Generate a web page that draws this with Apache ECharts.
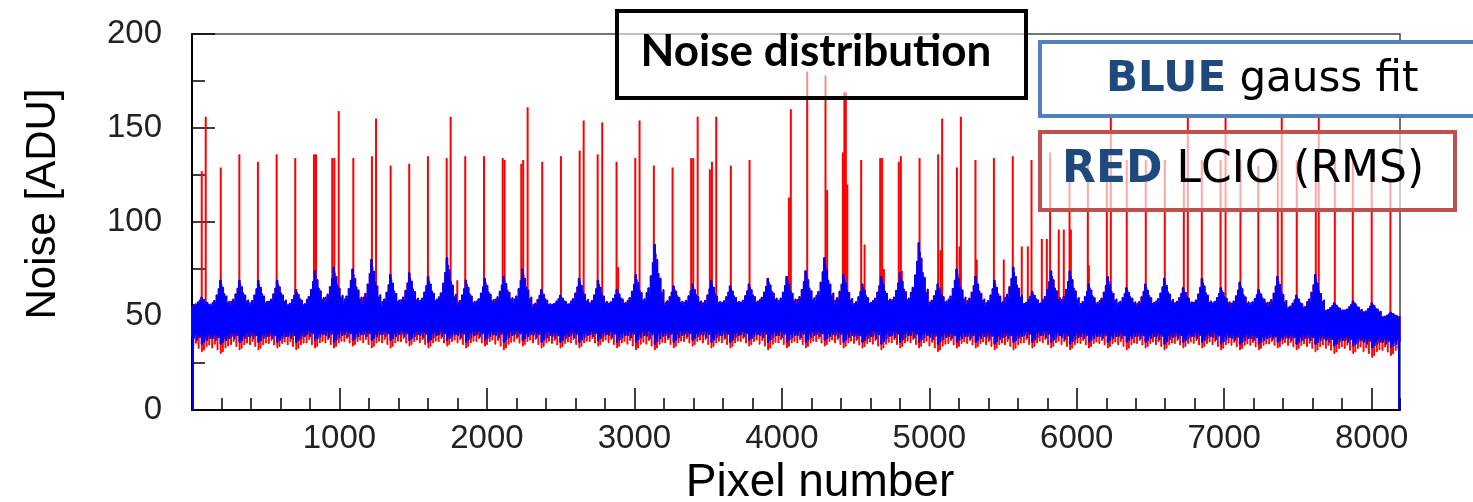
<!DOCTYPE html>
<html lang="en">
<head>
<meta charset="UTF-8">
<title>Noise distribution</title>
<script src="https://cdn.jsdelivr.net/npm/echarts@6/dist/echarts.min.js"></script>
</head>
<style>
    * { margin: 0; padding: 0; }
    html, body { width: 100%; height: 100%; overflow: hidden; background: #fff; }
    .container { width: 1473px; height: 502px; }
</style>
<body>
<div class="container"></div>
</body>
<script>
    // pixels come in groups of 128, one glyph per group
    const PERIOD = 128;

    // blue (gauss fit) : per group peak, upper level between peaks, lower level, lowest dip
    const bluePeak = [60,69,69,69,69,64,74,76,75,80, 72,73,71,81,69,70,71,75,64,61,
        70,69,64,72,88,66,67,69,66,67, 70,71,74,81,72,67,71,73,89,67,
        75,71,69,76,63,74,74,67,71,65, 67,70,65,70,65,68,64,71,61,72, 57,58,57,52];
    const blueValley = [55,54,55,54,55,54,55,56,55,55, 54,55,55,55,54,55,56,55,54,55,
        55,54,55,55,56,55,55,54,55,55, 56,55,55,56,55,54,55,55,56,55,
        55,55,54,56,55,55,55,54,55,55, 54,55,55,54,55,54,55,54,53,54, 52,52,51,49];
    const blueFloor = [40,40,41,41,41,41,42,42,42,42, 42,42,42,42,42,42,42,42,42,41,
        42,42,42,42,42,42,42,42,42,42, 42,42,42,42,42,41,42,42,42,41,
        41,41,41,41,42,42,41,41,41,41, 41,41,41,41,41,40,40,40,40,40, 39,39,38,38];
    const blueDip = [35,35,36,36,36,36,37,36,37,37, 37,37,36,37,36,37,36,37,36,36,
        36,37,36,36,35,36,37,36,36,37, 36,36,36,37,36,36,35,36,36,35,
        36,36,35,36,36,36,35,36,36,36, 36,35,36,36,35,35,35,36,35,35, 34,34,33,33];

    // red (LCIO RMS) : lowest dip per group, plus the hot pixels [pixel, noise]
    const redDip = [31,30,32,32,33,32,33,33,34,33, 33,34,33,34,33,34,32,34,33,33,
        33,34,33,32,32,33,34,33,33,34, 32,33,33,34,33,33,32,33,33,31,
        33,33,32,32,33,33,32,33,33,32, 33,32,33,33,32,32,32,33,32,31, 30,30,28,29];
    const redSpikes = [[66,127],[93,156],[195,129],[321,136],[447,132],[574,136],[700,134],[827,136],[841,136],
        [951,134],[965,134],[995,159],[1094,134],[1220,135],[1248,155],[1347,130],[1473,131],[1600,135],
        [1727,134],[1754,156],[1799,69],[1853,135],[1980,135],[2107,134],[2120,133],[2233,131],[2246,133],
        [2276,161],[2375,132],[2502,135],[2629,138],[2656,154],[2751,136],[2782,153],[2879,132],[2890,76],
        [3006,134],[3035,154],[3132,130],[3259,129],[3385,134],[3399,134],[3429,156],[3512,128],[3526,132],
        [3555,156],[3654,130],[3781,133],[4048,113],[4061,160],[4172,180],[4296,178],[4307,117],[4414,137],
        [4424,169],[4434,169],[4444,120],[4538,133],[4561,88],[4667,134],[4680,134],[4692,75],[4793,132],
        [4807,135],[4814,74],[4934,134],[5060,136],[5076,85],[5087,155],[5187,129],[5205,87],[5214,156],
        [5313,133],[5322,80],[5438,134],[5505,80],[5566,135],[5627,87],[5668,87],[5693,133],[5763,91],
        [5797,91],[5819,137],[5878,96],[5912,96],[5951,132],[5960,96],[6075,133],[6082,77],[6204,133],
        [6231,162],[6339,133],[6468,133],[6597,133],[6726,134],[6753,162],[6848,133],[6975,133],[7009,162],
        [7110,133],[7231,130],[7363,133],[7390,162],[7492,133],[7621,133],[7641,162],[7750,133],[7872,133],
        [8000,133],[8127,122]];

    const xTicks = [1000,2000,3000,4000,5000,6000,7000,8000];

    // glyph outline: [offset in group, fraction towards peak/dip]
    const UP_STEPS = [[0,0.05],[8,0.2],[14,0.08],[20,0.28],[28,0.18],[36,0.48],[44,0.38],[50,0.7],[56,0.55],[60,1],
        [70,0.85],[74,0.65],[80,0.75],[86,0.52],[94,0.36],[100,0.44],[108,0.2],[116,0.08],[122,0.25]];
    const LOW_STEPS = [[0,0],[10,0.4],[16,0],[30,0.6],[36,0.1],[48,0.3],[54,0],[62,1],[72,0.5],[80,0.8],
        [88,0.2],[100,0.6],[106,0],[118,0.4]];
    const RED_LOW_STEPS = [[0,0.15],[6,0.7],[12,0.15],[24,0.5],[30,0.15],[42,0.8],[48,0.15],[64,1],[70,0.4],
        [78,0.9],[84,0.2],[96,0.7],[102,0.15],[114,0.6],[120,0.15]];

    function edge(steps, x0, base, target) {
        let pts = [];
        steps.forEach((s, i) => {
            let a = x0 + s[0];
            let b = x0 + (i + 1 < steps.length ? steps[i + 1][0] : PERIOD);
            let y = base + (target - base) * s[1];
            pts.push([a, y], [b, y]);
        });
        return pts;
    }

    let groups = bluePeak.map((p, i) => [i * PERIOD, p, blueValley[i], blueFloor[i], blueDip[i], redDip[i]]);

    function bandItem(lowSteps, dipDim, color, withEdges) {
        return function (params, api) {
            let x0 = api.value(0), peak = api.value(1), valley = api.value(2), floor = api.value(3);
            let dip = api.value(dipDim);
            let top = edge(UP_STEPS, x0, valley, peak);
            let bottom = edge(lowSteps, x0, floor, dip).reverse();
            let points = top.concat(bottom).map(p => api.coord(p));
            let children = [{
                type: 'polygon', shape: { points },
                style: { fill: color, stroke: color, lineWidth: 1 }
            }];
            if (withEdges && params.dataIndex === 0) {
                let a = api.coord([x0, 0]), b = api.coord([x0, valley]);
                children.push({ type: 'line', shape: { x1: a[0] + 1, y1: a[1], x2: b[0] + 1, y2: b[1] }, style: { stroke: color, lineWidth: 2 } });
            }
            if (withEdges && params.dataIndex === groups.length - 1) {
                let a = api.coord([x0 + PERIOD, 0]), b = api.coord([x0 + PERIOD, valley]);
                children.push({ type: 'line', shape: { x1: a[0] - 1, y1: a[1], x2: b[0] - 1, y2: b[1] }, style: { stroke: color, lineWidth: 2 } });
            }
            return { type: 'group', children };
        };
    }

    function spikeItem(params, api) {
        let a = api.coord([api.value(0), 50]);
        let b = api.coord([api.value(0), api.value(1)]);
        return { type: 'line', shape: { x1: a[0], y1: a[1], x2: b[0], y2: b[1] }, style: { stroke: '#ff0000', lineWidth: 2 } };
    }

    let container = document.querySelector('.container');
    let mycharts = echarts.init(container);

    const tickFont = { fontFamily: 'Liberation Sans', fontSize: 33, color: '#222' };

    let option = {
        animation: false,
        backgroundColor: '#fff',
        grid: { left: 192, right: 73, top: 34, bottom: 92, outerBoundsMode: 'none',
            show: true, borderColor: '#444', borderWidth: 1.5 },
        xAxis: [{
            type: 'value', min: 0, max: 8192, interval: 1000, position: 'bottom',
            axisLine: { onZero: false, lineStyle: { color: '#000', width: 2 } },
            axisTick: { inside: true, length: 22, lineStyle: { color: '#000', width: 1.5 } },
            splitLine: { show: false },
            axisLabel: Object.assign({ margin: 12, showMaxLabel: false,
                formatter: v => xTicks.includes(v) ? String(v) : '' }, tickFont),
            name: 'Pixel number', nameLocation: 'middle', nameGap: 48,
            nameTextStyle: { fontFamily: 'Liberation Sans', fontSize: 46, color: '#000', padding: [0, 0, 0, 48] }
        }, {
            // minor ticks every 200 pixels
            type: 'value', min: 0, max: 8192, interval: 200, position: 'bottom',
            axisLine: { show: false },
            axisTick: { inside: true, length: 12, lineStyle: { color: '#000', width: 1.5 } },
            axisLabel: { show: false }, splitLine: { show: false }
        }],
        yAxis: {
            type: 'value', min: 0, max: 200, interval: 50,
            axisLine: { show: true, lineStyle: { color: '#000', width: 2 } },
            axisTick: { inside: true, length: 23, lineStyle: { color: '#000', width: 1.5 } },
            minorTick: { show: true, splitNumber: 2, length: 13, lineStyle: { color: '#000', width: 1.5 } },
            splitLine: { show: false },
            axisLabel: Object.assign({ margin: 30 }, tickFont),
            name: 'Noise [ADU]', nameLocation: 'middle', nameGap: 128,
            nameTextStyle: { fontFamily: 'Liberation Sans', fontSize: 42, color: '#000', padding: [0, 0, 0, 36] }
        },
        series: [{
            type: 'custom', name: 'red band', data: groups, z: 2,
            encode: { x: 0, y: [1, 2, 3, 5] },
            renderItem: bandItem(RED_LOW_STEPS, 5, '#ff0000', false)
        }, {
            type: 'custom', name: 'red spikes', data: redSpikes, z: 3,
            encode: { x: 0, y: 1 },
            renderItem: spikeItem
        }, {
            type: 'custom', name: 'blue band', data: groups, z: 4,
            encode: { x: 0, y: [1, 2, 3, 4] },
            renderItem: bandItem(LOW_STEPS, 4, '#0000ff', true)
        }],
        graphic: [{
            type: 'rect', z: 100,
            shape: { x: 617, y: 11, width: 409, height: 87 },
            style: { fill: 'rgba(255,255,255,0.55)', stroke: '#000', lineWidth: 4 }
        }, {
            type: 'text', z: 101, x: 816, y: 52,
            style: { text: 'Noise distribution', fontFamily: 'Lato', fontWeight: 'bold', fontSize: 44,
                fill: '#000', align: 'center', verticalAlign: 'middle' }
        }, {
            type: 'rect', z: 100,
            shape: { x: 1040, y: 42, width: 480, height: 74 },
            style: { fill: '#fff', stroke: '#4f81bd', lineWidth: 4 }
        }, {
            type: 'text', z: 101, x: 1106, y: 80,
            style: { text: '{b|BLUE} gauss fit', fontFamily: 'DejaVu Sans', fontSize: 42, fill: '#000',
                align: 'left', verticalAlign: 'middle',
                rich: { b: { fontFamily: 'DejaVu Sans', fontWeight: 'bold', fontSize: 42, fill: '#1f497d' } } }
        }, {
            type: 'rect', z: 100,
            shape: { x: 1040, y: 132, width: 415, height: 78 },
            style: { fill: 'rgba(255,255,255,0.65)', stroke: '#c0504d', lineWidth: 4 }
        }, {
            type: 'text', z: 101, x: 1062, y: 171,
            style: { text: '{b|RED} LCIO (RMS)', fontFamily: 'DejaVu Sans', fontSize: 44, fill: '#000',
                align: 'left', verticalAlign: 'middle',
                rich: { b: { fontFamily: 'DejaVu Sans', fontWeight: 'bold', fontSize: 44, fill: '#1f497d' } } }
        }]
    };
    mycharts.setOption(option);
</script>
</html>
